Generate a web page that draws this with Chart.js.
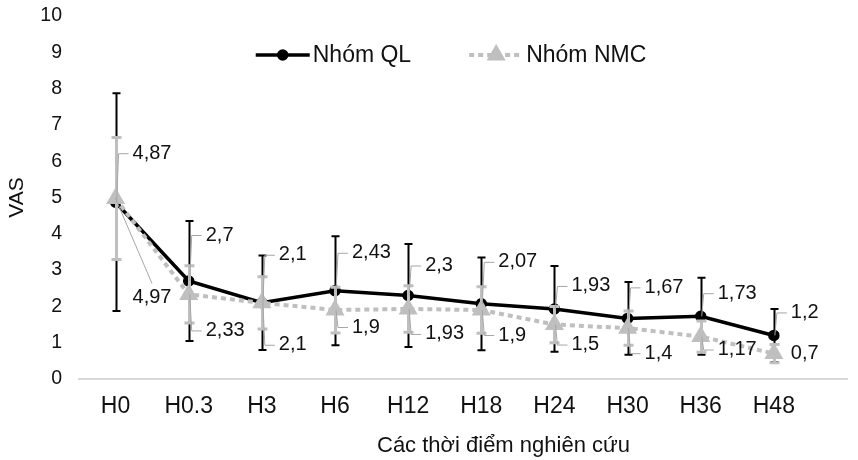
<!DOCTYPE html>
<html>
<head>
<meta charset="utf-8">
<script src="https://cdn.jsdelivr.net/npm/chart.js@4.4.1/dist/chart.umd.min.js"></script>
<style>
  html, body { margin: 0; padding: 0; background: #fff; }
  #wrap { width: 858px; height: 460px; }
</style>
</head>
<body>
<div id="wrap"><canvas id="chart"></canvas></div>
<script>
const categories = ["H0", "H0.3", "H3", "H6", "H12", "H18", "H24", "H30", "H36", "H48"];
const qlMean = [4.87, 2.7, 2.1, 2.43, 2.3, 2.07, 1.93, 1.67, 1.73, 1.2];
const qlSd = [3.0, 1.65, 1.3, 1.5, 1.42, 1.28, 1.18, 1.0, 1.06, 0.73];
const nmcMean = [4.97, 2.33, 2.1, 1.9, 1.93, 1.9, 1.5, 1.4, 1.17, 0.7];
const nmcSd = [1.68, 0.79, 0.72, 0.63, 0.64, 0.64, 0.5, 0.47, 0.43, 0.25];
const yTicks = [0, 1, 2, 3, 4, 5, 6, 7, 8, 9, 10];

// where the value labels sit, in px below the point (they were moved by hand in the original)
const qlLabelDy = [-49, -46, -48, -38, -30, -42, -23, -31, -23, -23];
const nmcLabelDy = [99, 36, 42, 17, 25, 25, 20, 25, 13, 0];

const FONT = "'Liberation Sans', Arial, sans-serif";
const GRAY = "#bfbfbf";

const errorBars = {
    id: "errorBars",
    beforeDatasetDraw(chart, args) {
        const ds = chart.data.datasets[args.index];
        const y = chart.scales.y;
        const ctx = chart.ctx;
        ctx.save();
        ctx.strokeStyle = ds.errColor;
        ctx.lineWidth = ds.errWidth;
        args.meta.data.forEach((pt, i) => {
            const top = y.getPixelForValue(ds.means[i] + ds.sd[i]);
            const bot = y.getPixelForValue(ds.means[i] - ds.sd[i]);
            const x = Math.round(pt.x) + 0.5;
            ctx.beginPath();
            ctx.moveTo(x, top);
            ctx.lineTo(x, bot);
            ctx.moveTo(x - ds.capHalf, top);
            ctx.lineTo(x + ds.capHalf, top);
            ctx.moveTo(x - ds.capHalf, bot);
            ctx.lineTo(x + ds.capHalf, bot);
            ctx.stroke();
        });
        ctx.restore();
    }
};

const valueLabels = {
    id: "valueLabels",
    afterDatasetsDraw(chart) {
        const ctx = chart.ctx;
        ctx.save();
        ctx.font = "20px " + FONT;
        ctx.textBaseline = "middle";
        ctx.fillStyle = "#111";
        chart.data.datasets.forEach((ds, di) => {
            const meta = chart.getDatasetMeta(di);
            meta.data.forEach((pt, i) => {
                const text = String(ds.means[i]).replace(".", ",");
                const dy = ds.labelDy[i];
                const tx = pt.x + 17;
                const ty = pt.y + dy;
                const w = ctx.measureText(text).width;
                if (dy !== 0) {
                    ctx.strokeStyle = "#a6a6a6";
                    ctx.lineWidth = 1;
                    ctx.beginPath();
                    if (Math.abs(dy) > 60) {
                        const ex = tx + w / 2;
                        const ey = dy > 0 ? ty - 14 : ty + 14;
                        ctx.moveTo(ex, ey);
                        ctx.lineTo(pt.x, pt.y);
                    } else {
                        ctx.moveTo(tx - 4, ty + 0.5);
                        ctx.lineTo(pt.x + 3, ty + 0.5);
                        ctx.lineTo(pt.x + 1, pt.y);
                    }
                    ctx.stroke();
                }
                ctx.fillText(text, tx, ty);
            });
        });
        ctx.restore();
    }
};

const legendAndTitle = {
    id: "legendAndTitle",
    afterDraw(chart) {
        const ctx = chart.ctx;
        const area = chart.chartArea;
        ctx.save();
        ctx.font = "23px " + FONT;
        ctx.textBaseline = "middle";
        const sample = 54, gapText = 3, gapItem = 58;
        const items = chart.data.datasets.map(ds => ({ds, w: ctx.measureText(ds.label).width}));
        let total = 0;
        items.forEach((it, i) => { total += sample + gapText + it.w + (i ? gapItem : 0); });
        let x = (area.left + area.right) / 2 - 12 - total / 2;
        const ly = 55;
        items.forEach(it => {
            const ds = it.ds;
            ctx.strokeStyle = ds.borderColor;
            ctx.lineWidth = ds.borderWidth;
            ctx.setLineDash(ds.borderDash || []);
            ctx.beginPath();
            ctx.moveTo(x, ly);
            ctx.lineTo(x + sample, ly);
            ctx.stroke();
            ctx.setLineDash([]);
            ctx.fillStyle = ds.pointBackgroundColor;
            ctx.strokeStyle = ds.pointBorderColor;
            Chart.helpers.drawPoint(ctx, {
                pointStyle: ds.pointStyle, radius: ds.pointRadius, borderWidth: 1
            }, x + sample / 2, ly);
            ctx.fillStyle = "#111";
            ctx.fillText(ds.label, x + sample + gapText, ly + 1);
            x += sample + gapText + it.w + gapItem;
        });

        // x axis title
        ctx.font = "22px " + FONT;
        ctx.textAlign = "left";
        ctx.fillText("Các thời điểm nghiên cứu", 377, 446);
        ctx.restore();
    }
};

new Chart(document.getElementById("chart"), {
    type: "line",
    data: {
        datasets: [
            {
                label: "Nhóm QL",
                data: qlMean.map((v, i) => ({x: i, y: v})),
                means: qlMean, sd: qlSd, labelDy: qlLabelDy,
                errColor: "#000", errWidth: 2, capHalf: 4,
                borderColor: "#000", borderWidth: 3.5,
                pointStyle: "circle", pointRadius: 4,
                pointBackgroundColor: "#000", pointBorderColor: "#000",
                tension: 0, order: 1
            },
            {
                label: "Nhóm NMC",
                data: nmcMean.map((v, i) => ({x: i, y: v})),
                means: nmcMean, sd: nmcSd, labelDy: nmcLabelDy,
                errColor: GRAY, errWidth: 3, capHalf: 5,
                borderColor: GRAY, borderWidth: 4, borderDash: [5, 4],
                pointStyle: "triangle", pointRadius: 7,
                pointBackgroundColor: GRAY, pointBorderColor: GRAY,
                tension: 0, order: 0
            }
        ]
    },
    options: {
        responsive: true,
        maintainAspectRatio: false,
        animation: false,
        layout: {padding: {top: 16, right: 0, left: 0, bottom: 0}},
        plugins: {legend: {display: false}, tooltip: {enabled: false}},
        scales: {
            x: {
                type: "linear",
                min: -0.5,
                max: 10,
                afterBuildTicks: s => { s.ticks = categories.map((c, i) => ({value: i})); },
                afterFit: s => { s.height = 81; },
                grid: {display: false, drawTicks: false},
                border: {color: "#d9d9d9", width: 2},
                ticks: {
                    autoSkip: false, maxRotation: 0,
                    padding: 14,
                    color: "#111",
                    font: {family: FONT, size: 23},
                    callback: v => categories[v]
                }
            },
            y: {
                min: 0,
                max: 10,
                afterBuildTicks: s => { s.ticks = yTicks.map(v => ({value: v})); },
                afterFit: s => { s.width = 79; s.paddingTop = 0; s.paddingBottom = 0; },
                grid: {display: false, drawTicks: false},
                border: {display: false},
                ticks: {
                    padding: 17,
                    color: "#111",
                    font: {family: FONT, size: 19.5}
                },
                title: {
                    display: true,
                    text: "VAS",
                    color: "#111",
                    font: {family: FONT, size: 21},
                    padding: {top: 5, bottom: 0}
                }
            }
        }
    },
    plugins: [errorBars, valueLabels, legendAndTitle]
});
</script>
</body>
</html>
